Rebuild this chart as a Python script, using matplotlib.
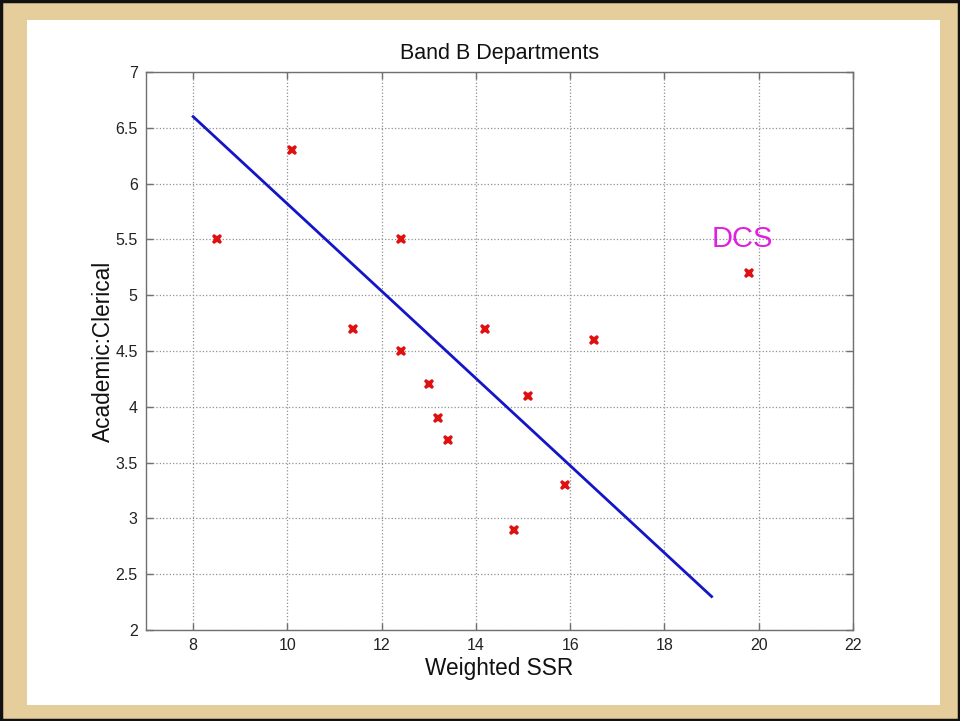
import matplotlib.pyplot as plt
from matplotlib.patches import Rectangle

plt.rcParams['font.family'] = ['Liberation Sans', 'DejaVu Sans']

# Band B departments: weighted SSR vs academic:clerical ratio
ssr = [8.5, 10.1, 11.4, 12.4, 12.4, 13.0, 13.2, 13.4, 14.2, 14.8, 15.1, 15.9, 16.5, 19.8]
ratio = [5.5, 6.3, 4.7, 5.5, 4.5, 4.2, 3.9, 3.7, 4.7, 2.9, 4.1, 3.3, 4.6, 5.2]

# fitted line end points
fit_x = [8, 19]
fit_y = [6.6, 2.3]

xticks = [8, 10, 12, 14, 16, 18, 20, 22]
yticks = [2, 2.5, 3, 3.5, 4, 4.5, 5, 5.5, 6, 6.5, 7]
ytick_labels = ['2', '2.5', '3', '3.5', '4', '4.5', '5', '5.5', '6', '6.5', '7']

W, H = 960, 721
fig = plt.figure(figsize=(9.6, 7.21), dpi=100, facecolor='#E6CD9C')

# white slide area and outer black frame (drawn behind the axes)
fig.patches.append(Rectangle((27 / W, 1 - 705 / H), (940 - 27) / W, (705 - 20) / H,
                             transform=fig.transFigure, facecolor='white',
                             edgecolor='none', zorder=-2))
fig.patches.append(Rectangle((0.0015, 0.002), 0.997, 0.996, transform=fig.transFigure,
                             facecolor='none', edgecolor='#111111', linewidth=2.5, zorder=-1))

ax = fig.add_axes([146 / W, 1 - 630 / H, 707 / W, 558 / H])
ax.set_facecolor('white')

ax.plot(fit_x, fit_y, color='#1414C8', linewidth=2.0, zorder=3)
ax.plot(ssr, ratio, linestyle='none', marker='X', markersize=7.5,
        color='#E01010', markeredgewidth=0, zorder=4)

ax.text(19.0, 5.38, 'DCS', color='#E020E0', fontsize=21, ha='left', va='bottom')

ax.set_xlim(7, 22)
ax.set_ylim(2, 7)
ax.set_xticks(xticks)
ax.set_yticks(yticks)
ax.set_yticklabels(ytick_labels)

ax.grid(True, linestyle=':', color='#909090', linewidth=0.9)
for s in ax.spines.values():
    s.set_color('#707070')
    s.set_linewidth(1.0)
ax.tick_params(direction='in', length=5, width=1, color='#707070',
               top=True, right=True, labelsize=11.5, labelcolor='#222222', pad=6)

ax.set_title('Band B Departments', fontsize=15.5, pad=9, color='#111111')
ax.set_xlabel('Weighted SSR', fontsize=16.3, labelpad=3, color='#111111')
ax.set_ylabel('Academic:Clerical', fontsize=16.3, color='#111111')
ax.yaxis.set_label_coords((115 - 146) / 707, 0.5)

fig.savefig('out.png', dpi=100, facecolor=fig.get_facecolor())
